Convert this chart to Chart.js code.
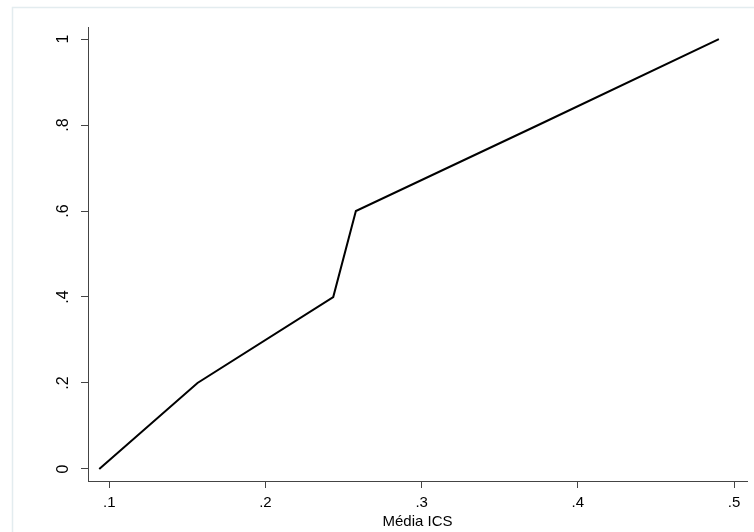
<!DOCTYPE html>
<html>
<head>
<meta charset="utf-8">
<script src="https://cdn.jsdelivr.net/npm/chart.js@4"></script>
<style>
  html, body { margin: 0; padding: 0; background: #fff; }
  #wrap { width: 754px; height: 532px; position: relative; }
</style>
</head>
<body>
<div id="wrap"><canvas id="grafico" width="754" height="532"></canvas></div>
<script>
// Datos
const mediaICS = [0.0936, 0.1565, 0.2434, 0.2579, 0.3747, 0.4903];
const proporcion = [0, 0.2, 0.4, 0.6, 0.8, 1];
const ticksX = [0.1, 0.2, 0.3, 0.4, 0.5];
const ticksY = [0, 0.2, 0.4, 0.6, 0.8, 1];

// Formato estilo Stata: ".2" en lugar de "0.2"
function etiqueta(v) {
    const r = Math.round(v * 10) / 10;
    if (r === 0) return '0';
    if (r === 1) return '1';
    return String(r).replace(/^0/, '');
}

// Marco exterior del área del gráfico
const marco = {
    id: 'marco',
    beforeDraw(chart) {
        const c = chart.ctx;
        c.save();
        c.strokeStyle = '#e3ecef';
        c.lineWidth = 1.5;
        c.strokeRect(12.5, 7.5, 760, 540);
        c.restore();
    }
};

const fuente = { family: 'Liberation Sans, Arial, sans-serif', size: 15 };
const fuenteY = { family: 'Liberation Sans, Arial, sans-serif', size: 16 };

const ctx = document.getElementById('grafico').getContext('2d');
new Chart(ctx, {
    type: 'line',
    data: {
        datasets: [{
            data: mediaICS.map((x, i) => ({ x: x, y: proporcion[i] })),
            borderColor: '#000',
            borderWidth: 2,
            pointRadius: 0,
            tension: 0,
            fill: false
        }]
    },
    options: {
        responsive: false,
        animation: false,
        layout: { padding: { top: 27, right: 7, left: 0, bottom: 0 } },
        plugins: { legend: { display: false }, tooltip: { enabled: false } },
        scales: {
            x: {
                type: 'linear',
                min: 0.0864,
                max: 0.5083,
                afterBuildTicks: s => { s.ticks = ticksX.map(v => ({ value: v })); },
                afterFit: s => { s.height = 51; },
                border: { color: '#444', width: 1 },
                grid: { drawOnChartArea: false, drawTicks: true, tickLength: 7, color: '#444' },
                ticks: { color: '#000', font: fuente, padding: 6, maxRotation: 0, callback: v => etiqueta(v) },
                title: { display: true, text: 'Média ICS', color: '#000', font: fuente, padding: { top: 0, bottom: 1 } }
            },
            y: {
                type: 'linear',
                min: -0.028,
                max: 1.028,
                afterBuildTicks: s => { s.ticks = ticksY.map(v => ({ value: v })); },
                afterFit: s => { s.width = 88; },
                border: { color: '#444', width: 1 },
                grid: { drawOnChartArea: false, drawTicks: true, tickLength: 7, color: '#444' },
                ticks: { color: '#000', font: fuenteY, padding: 11, minRotation: 90, maxRotation: 90,
                         crossAlign: 'center', callback: v => etiqueta(v) }
            }
        }
    },
    plugins: [marco]
});
</script>
</body>
</html>
